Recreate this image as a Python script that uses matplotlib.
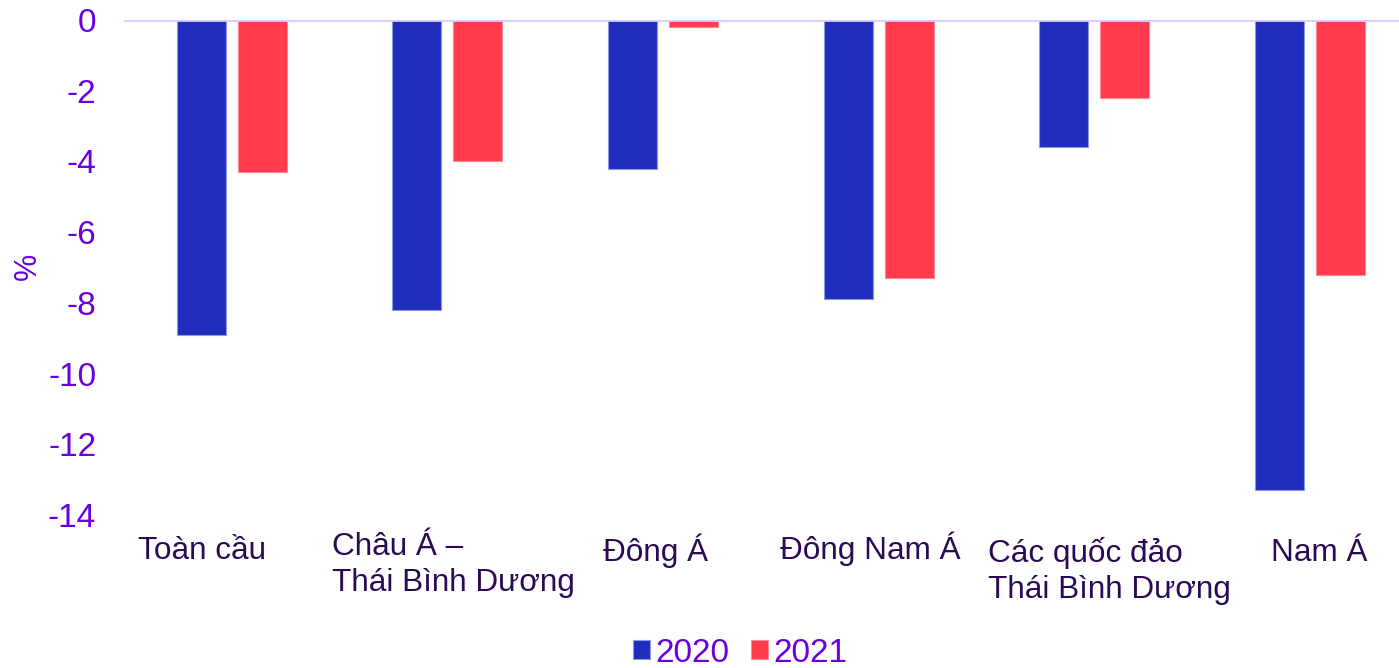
import numpy as np
import matplotlib
matplotlib.use("Agg")
import matplotlib.pyplot as plt

# ---------------------- dữ liệu ----------------------
categories = ["Toàn cầu", "Châu Á –\nThái Bình Dương", "Đông Á", "Đông Nam Á",
              "Các quốc đảo\nThái Bình Dương", "Nam Á"]
vals_2020 = [-8.9, -8.2, -4.2, -7.9, -3.6, -13.3]
vals_2021 = [-4.3, -4.0, -0.2, -7.3, -2.2, -7.2]
series_names = ["2020", "2021"]
y_ticks = [0, -2, -4, -6, -8, -10, -12, -14]

# vị trí nhãn danh mục (lệch so với tâm nhóm, do bố cục gốc đặt tay)
label_dx = [-0.435, -0.535, -0.278, -0.457, -0.493, -0.18]
label_y = [-14.59, -14.47, -14.53, -14.46, -14.61, -14.65]

BLUE = "#1e2dbb"
RED = "#ff3b4d"
TICK_COLOR = "#6a00e0"
CAT_COLOR = "#2a0a55"
ZERO_LINE = "#dccbff"

plt.rcParams["font.family"] = ["Liberation Sans", "DejaVu Sans"]

fig = plt.figure(figsize=(13.99, 6.68), dpi=100)
ax = fig.add_axes([124 / 1399, 153 / 668, 1293.6 / 1399, 495 / 668])

x = np.arange(len(categories))
w = 0.227
off = 0.1415
b1 = ax.bar(x - off, vals_2020, w, color=BLUE, edgecolor="#8f96e6", linewidth=0.8, label=series_names[0])
b2 = ax.bar(x + off, vals_2021, w, color=RED, edgecolor="#ff8a95", linewidth=0.8, label=series_names[1])

ax.axhline(0, color=ZERO_LINE, linewidth=2, zorder=3)
ax.set_xlim(-0.5, len(categories) - 0.5)
ax.set_ylim(-14, 0)
ax.set_yticks(y_ticks)
ax.set_yticklabels([str(t) for t in y_ticks], fontsize=24, color=TICK_COLOR)
ax.tick_params(axis="y", length=0, pad=20)
ax.set_xticks([])
for s in ax.spines.values():
    s.set_visible(False)

ax.set_ylabel("%", fontsize=22, color=TICK_COLOR)
ax.yaxis.set_label_coords(-0.0626, 0.503)

for i, name in enumerate(categories):
    ax.text(i + label_dx[i], label_y[i], name, ha="left", va="top", fontsize=22.7,
            color=CAT_COLOR, linespacing=1.26, clip_on=False)

fig.legend(handles=[b1, b2], labels=series_names, loc="center",
           bbox_to_anchor=(740 / 1399, 1 - 653 / 668), ncol=2, frameon=False,
           fontsize=24, labelcolor=TICK_COLOR, handlelength=0.52, handleheight=0.52,
           handletextpad=0.16, columnspacing=0.65, borderpad=0)

fig.savefig("out.png", dpi=100)
